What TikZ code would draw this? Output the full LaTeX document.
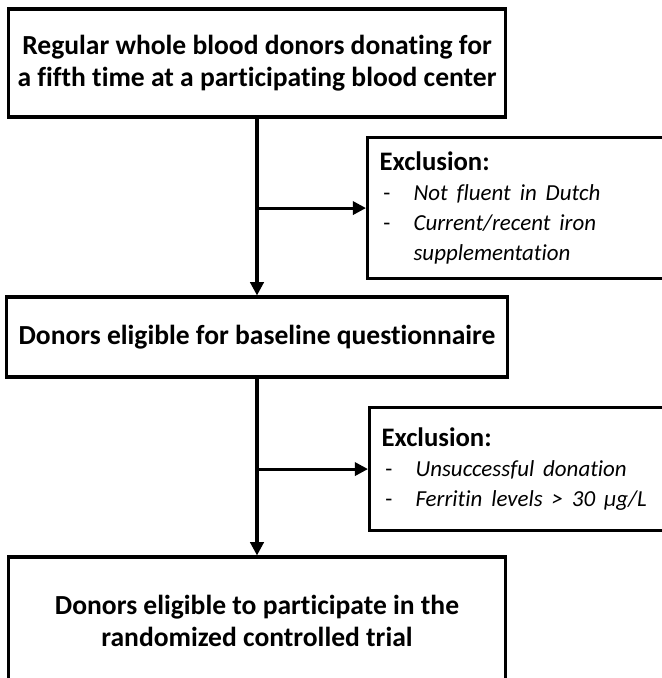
\documentclass[tikz,border=0pt]{standalone}
\usepackage{fontspec}
\setmainfont{Carlito}[Ligatures=NoCommon]
\usetikzlibrary{arrows.meta}
\newcommand{\exclitem}[1]{{\fontsize{16.3}{21.5}\selectfont\itshape #1}}
\newcommand{\excldash}{\makebox[0.85cm][l]{\fontsize{16.3}{21.5}\selectfont\,-}}

\begin{document}
\begin{tikzpicture}[x=0.025cm, y=-0.025cm]
\tikzset{mainbox/.style={draw, line width=2.2pt, align=center, minimum width=12.4cm, font=\fontsize{19.6}{23}\selectfont\bfseries},
exclbox/.style={draw, line width=2.2pt, anchor=north west, align=left, inner xsep=0.3cm, text width=7.4cm, font=\fontsize{19}{21.5}\selectfont},
flow/.style={line width=2.2pt, -{Triangle[length=0.33cm, width=0.33cm]}}}
\useasboundingbox (0,0) rectangle (662,678);
\clip (0,0) rectangle (662,678);
\node[mainbox, minimum height=2.7cm] (donors) at (257,63) {Regular whole blood donors donating for\\a fifth time at a participating blood center};
\node[mainbox, minimum width=12.5cm, minimum height=2cm] (baseline) at (257,337) {Donors eligible for baseline questionnaire};
\node[mainbox, minimum height=3.2cm] (trial) at (257,621) {Donors eligible to participate in the\\randomized controlled trial};
\node[exclbox, minimum height=3.525cm] (excl1) at (366,136) {\textbf{Exclusion:}\\
\excldash\exclitem{Not fluent in Dutch}\\
\excldash\exclitem{Current/recent iron}\\
\hspace*{0.85cm}\exclitem{supplementation}};
\node[exclbox, minimum height=3.075cm] (excl2) at (368,406) {\textbf{Exclusion:}\\
\excldash\exclitem{Unsuccessful donation}\\
\excldash\exclitem{Ferritin levels > 30 µg/L}};
\draw[flow] (donors) -- (baseline);
\draw[flow] (donors.south |- excl1.west) -- (excl1.west);
\draw[flow] (baseline) -- (trial);
\draw[flow] (baseline.south |- excl2.west) -- (excl2.west);
\end{tikzpicture}
\end{document}
